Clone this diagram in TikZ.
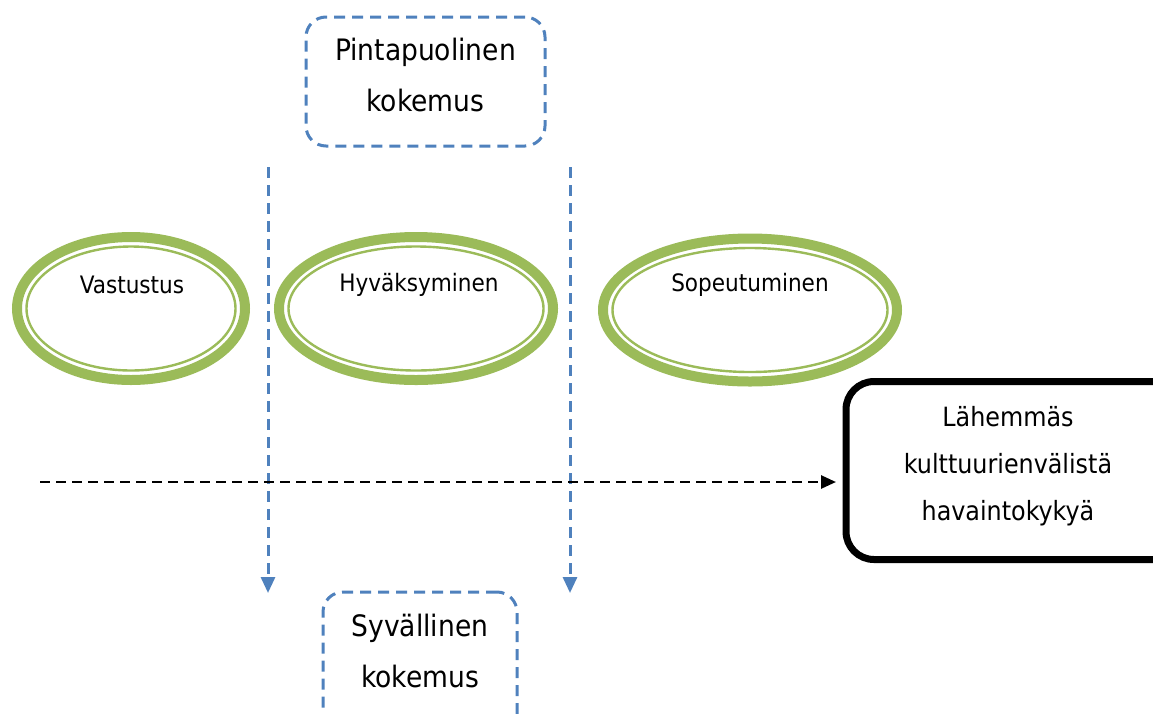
\documentclass[tikz,border=0pt]{standalone}
\usepackage{fontspec}
\setmainfont{DejaVu Sans Condensed}
\usetikzlibrary{shapes.geometric,arrows.meta,calc}
\definecolor{ringgreen}{HTML}{9BBB59}
\definecolor{flowblue}{HTML}{4F81BD}
\tikzset{
  ring/.style={ellipse, draw=ringgreen, line width=10pt, inner sep=0pt},
  ringin/.style={ellipse, draw=ringgreen, line width=2.4pt, inner sep=0pt},
  ringtext/.style={font=\fontsize{24}{28}\selectfont, text=black},
  boxfont/.style={font=\fontsize{29.5}{51}\selectfont, align=center},
  goalfont/.style={font=\fontsize{26.5}{47}\selectfont, align=center},
  phasebox/.style={draw=flowblue, dash pattern=on 11pt off 7pt, line width=3pt,
    rounded corners=20pt},
  goalbox/.style={draw=black, line width=7pt, rounded corners=28pt},
  depth/.style={flowblue, line width=3pt, dash pattern=on 11pt off 7pt,
    -{Triangle[length=16pt,width=14pt]}},
  growth/.style={black, line width=2.6pt, dash pattern=on 10pt off 6pt,
    -{Triangle[length=15pt,width=13pt]}}
}
\begin{document}
\begin{tikzpicture}[x=1pt,y=-1pt]
\useasboundingbox (0,0) rectangle (1153,713);

% surface / deep experience boxes
\node[phasebox, minimum width=239pt, minimum height=129pt] (surf) at (425.5,81.5) {};
\node[boxfont] (surftext) at (425.5,75) {Pintapuolinen\\kokemus};
\node[phasebox, minimum width=194pt, minimum height=160pt] (deep) at (420,672) {};
\node[boxfont] (deeptext) at (420,651) {Syvällinen\\kokemus};

% downward dashed arrows
\coordinate (a1top) at (268,167);
\coordinate (a1end) at (268,593);
\coordinate (a2top) at (570,167);
\coordinate (a2end) at (570,593);
\draw[depth] (a1top) -- (a1end);
\draw[depth] (a2top) -- (a2end);

% phases as double rings
\node[ring, minimum width=228pt, minimum height=143pt] (vast) at (131,308.5) {};
\node[ringin, minimum width=209pt, minimum height=124pt] (vastin) at (vast.center) {};
\node[ringtext] (vastt) at (132,285) {Vastustus};

\node[ring, minimum width=274pt, minimum height=143pt] (hyva) at (416,308.5) {};
\node[ringin, minimum width=255pt, minimum height=124pt] (hyvain) at (hyva.center) {};
\node[ringtext] (hyvat) at (419,285) {Hyväksyminen};

\node[ring, minimum width=294pt, minimum height=143pt] (sope) at (750,310) {};
\node[ringin, minimum width=275pt, minimum height=124pt] (sopein) at (sope.center) {};
\node[ringtext] (sopet) at (750,285) {Sopeutuminen};

% goal box
\node[goalbox, minimum width=340pt, minimum height=178pt] (goal) at (1016,470.5) {};
\node[goalfont] (goaltext) at (1008,466) {Lähemmäs\\kulttuurienvälistä\\havaintokykyä};

% development arrow
\coordinate (gstart) at (40,482);
\coordinate (gend) at (836,482);
\draw[growth] (gstart) -- (gend);
\end{tikzpicture}
\end{document}
